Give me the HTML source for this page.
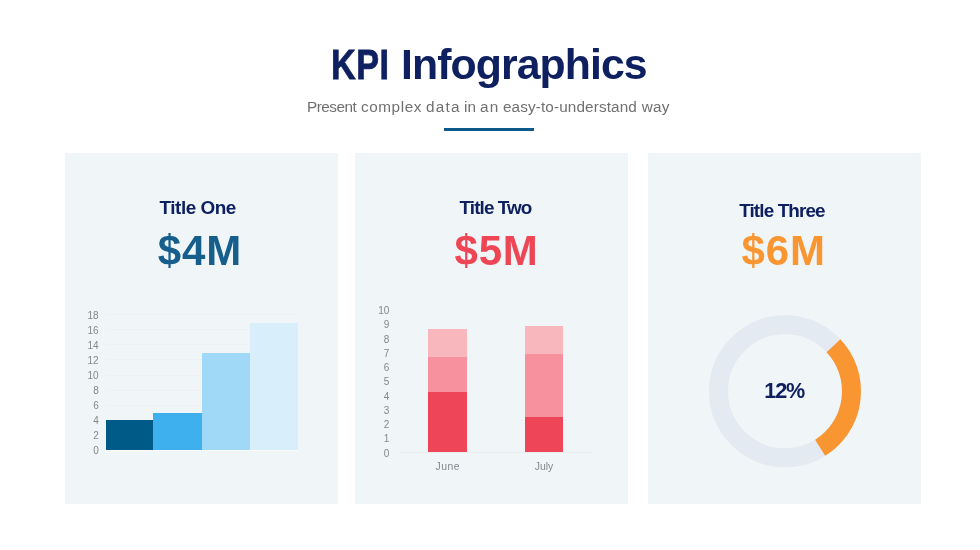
<!DOCTYPE html>
<html lang="en">
<head>
<meta charset="utf-8">
<title>KPI Infographics</title>
<style>
html,body{margin:0;padding:0;}
body{width:980px;height:550px;position:relative;overflow:hidden;background:#fff;font-family:"Liberation Sans",sans-serif;}
.card{position:absolute;top:153px;width:273px;height:351px;background:#f0f5f8;}
.t{position:absolute;white-space:nowrap;line-height:1;}
.b{position:absolute;}
</style>
</head>
<body>

<!-- header -->
<div id="h1" class="t" style="left:330.50px;top:43.07px;font-size:42.8px;color:#0f2060;font-weight:bold;"><span id="kpi" style="display:inline-block;transform:scaleX(0.8);transform-origin:0 50%;margin-right:-14.5px;-webkit-text-stroke:0.8px #0f2060;letter-spacing:0.6px;">KPI</span> <span id="info" style="letter-spacing:-0.93px;">Infographics</span></div>
<div id="sub" class="t" style="left:306.50px;top:98.85px;font-size:15.3px;color:#707070;"><span id="sw0" style="position:absolute;left:0.42px;top:0;letter-spacing:-0.467px;">Present </span><span id="sw1" style="position:absolute;left:54.42px;top:0;letter-spacing:0.600px;">complex </span><span id="sw2" style="position:absolute;left:119.38px;top:0;letter-spacing:1.267px;">data </span><span id="sw3" style="position:absolute;left:157.50px;top:0;letter-spacing:0.200px;">in </span><span id="sw4" style="position:absolute;left:173.38px;top:0;letter-spacing:1.320px;">an </span><span id="sw5" style="position:absolute;left:196.38px;top:0;letter-spacing:0.125px;">easy-to-understand </span><span id="sw6" style="position:absolute;left:335.22px;top:0;letter-spacing:0.200px;">way</span></div>
<div class="b" style="left:444px;top:128px;width:90px;height:3px;background:#0b5a8b;"></div>
<!-- cards -->
<div class="card" style="left:65px;"></div>
<div class="card" style="left:355px;"></div>
<div class="card" style="left:648px;"></div>
<!-- card 1 -->
<div id="t1" class="t" style="left:159.50px;top:198.50px;font-size:18.9px;color:#0f2060;font-weight:bold;letter-spacing:-0.45px;">Title One</div>
<div id="b1" class="t" style="left:157.70px;top:230.45px;font-size:42px;color:#165e8c;font-weight:bold;letter-spacing:0.9px;">$4M</div>
<div class="b" style="left:105.5px;top:449.80px;width:192px;height:1px;background:#eef0f3;"></div>
<div class="b" style="left:105.5px;top:434.74px;width:192px;height:1px;background:#eef0f3;"></div>
<div class="b" style="left:105.5px;top:419.68px;width:192px;height:1px;background:#eef0f3;"></div>
<div class="b" style="left:105.5px;top:404.62px;width:192px;height:1px;background:#eef0f3;"></div>
<div class="b" style="left:105.5px;top:389.56px;width:192px;height:1px;background:#eef0f3;"></div>
<div class="b" style="left:105.5px;top:374.50px;width:192px;height:1px;background:#eef0f3;"></div>
<div class="b" style="left:105.5px;top:359.44px;width:192px;height:1px;background:#eef0f3;"></div>
<div class="b" style="left:105.5px;top:344.38px;width:192px;height:1px;background:#eef0f3;"></div>
<div class="b" style="left:105.5px;top:329.32px;width:192px;height:1px;background:#eef0f3;"></div>
<div class="b" style="left:105.5px;top:314.26px;width:192px;height:1px;background:#eef0f3;"></div>
<div id="a1_0" class="t" style="left:78.70px;top:446.00px;font-size:10px;color:#85888b;text-align:right;width:20px;">0</div>
<div id="a1_2" class="t" style="left:78.70px;top:431.00px;font-size:10px;color:#85888b;text-align:right;width:20px;">2</div>
<div id="a1_4" class="t" style="left:78.70px;top:416.00px;font-size:10px;color:#85888b;text-align:right;width:20px;">4</div>
<div id="a1_6" class="t" style="left:78.70px;top:401.00px;font-size:10px;color:#85888b;text-align:right;width:20px;">6</div>
<div id="a1_8" class="t" style="left:78.70px;top:386.00px;font-size:10px;color:#85888b;text-align:right;width:20px;">8</div>
<div id="a1_10" class="t" style="left:78.70px;top:371.00px;font-size:10px;color:#85888b;text-align:right;width:20px;">10</div>
<div id="a1_12" class="t" style="left:78.70px;top:356.00px;font-size:10px;color:#85888b;text-align:right;width:20px;">12</div>
<div id="a1_14" class="t" style="left:78.70px;top:341.00px;font-size:10px;color:#85888b;text-align:right;width:20px;">14</div>
<div id="a1_16" class="t" style="left:78.70px;top:326.00px;font-size:10px;color:#85888b;text-align:right;width:20px;">16</div>
<div id="a1_18" class="t" style="left:78.70px;top:311.00px;font-size:10px;color:#85888b;text-align:right;width:20px;">18</div>
<div class="b" style="left:105.5px;top:450px;width:192px;height:1.4px;background:#f9fbfc;"></div>
<div class="b" style="left:105.5px;top:420.4px;width:47.5px;height:29.7px;background:#005a87;"></div>
<div class="b" style="left:153px;top:412.9px;width:48.7px;height:37.2px;background:#3fb0ee;"></div>
<div class="b" style="left:201.7px;top:352.6px;width:48.3px;height:97.5px;background:#a0d8f7;"></div>
<div class="b" style="left:250px;top:322.5px;width:47.6px;height:127.6px;background:#d9eefb;"></div>
<!-- card 2 -->
<div id="t2" class="t" style="left:459.50px;top:198.50px;font-size:18.9px;color:#0f2060;font-weight:bold;letter-spacing:-0.9px;">Title Two</div>
<div id="b2" class="t" style="left:454.50px;top:230.45px;font-size:42px;color:#ee4654;font-weight:bold;letter-spacing:0.8px;">$5M</div>
<div class="b" style="left:399px;top:452.10px;width:193px;height:1px;background:#e8edf0;"></div>
<div id="a2_0" class="t" style="left:369.40px;top:449.00px;font-size:10px;color:#85888b;text-align:right;width:20px;">0</div>
<div id="a2_1" class="t" style="left:369.40px;top:434.00px;font-size:10px;color:#85888b;text-align:right;width:20px;">1</div>
<div id="a2_2" class="t" style="left:369.40px;top:420.00px;font-size:10px;color:#85888b;text-align:right;width:20px;">2</div>
<div id="a2_3" class="t" style="left:369.40px;top:406.00px;font-size:10px;color:#85888b;text-align:right;width:20px;">3</div>
<div id="a2_4" class="t" style="left:369.40px;top:392.00px;font-size:10px;color:#85888b;text-align:right;width:20px;">4</div>
<div id="a2_5" class="t" style="left:369.40px;top:377.00px;font-size:10px;color:#85888b;text-align:right;width:20px;">5</div>
<div id="a2_6" class="t" style="left:369.40px;top:363.00px;font-size:10px;color:#85888b;text-align:right;width:20px;">6</div>
<div id="a2_7" class="t" style="left:369.40px;top:349.00px;font-size:10px;color:#85888b;text-align:right;width:20px;">7</div>
<div id="a2_8" class="t" style="left:369.40px;top:335.00px;font-size:10px;color:#85888b;text-align:right;width:20px;">8</div>
<div id="a2_9" class="t" style="left:369.40px;top:320.00px;font-size:10px;color:#85888b;text-align:right;width:20px;">9</div>
<div id="a2_10" class="t" style="left:369.40px;top:306.00px;font-size:10px;color:#85888b;text-align:right;width:20px;">10</div>
<div class="b" style="left:428px;top:391.8px;width:38.8px;height:60.2px;background:#ee4558;"></div>
<div class="b" style="left:428px;top:356.8px;width:38.8px;height:35.0px;background:#f6919d;"></div>
<div class="b" style="left:428px;top:328.8px;width:38.8px;height:28.0px;background:#f8b6bd;"></div>
<div class="b" style="left:524.8px;top:417.0px;width:38.0px;height:35.0px;background:#ee4558;"></div>
<div class="b" style="left:524.8px;top:354.3px;width:38.0px;height:62.7px;background:#f6919d;"></div>
<div class="b" style="left:524.8px;top:325.7px;width:38.0px;height:28.6px;background:#f8b6bd;"></div>
<div id="june" class="t" style="left:435.60px;top:462.00px;font-size:10.4px;color:#85888b;letter-spacing:0.45px;">June</div>
<div id="july" class="t" style="left:534.70px;top:462.00px;font-size:10.4px;color:#85888b;">July</div>
<!-- card 3 -->
<div id="t3" class="t" style="left:739.20px;top:202.30px;font-size:18.9px;color:#0f2060;font-weight:bold;letter-spacing:-0.88px;">Title Three</div>
<div id="b3" class="t" style="left:741.40px;top:230.45px;font-size:42px;color:#fa9632;font-weight:bold;letter-spacing:1.0px;">$6M</div>
<svg class="b" style="left:0;top:0;" width="980" height="550" viewBox="0 0 980 550"><circle cx="785" cy="391.3" r="66.5" fill="none" stroke="#e3eaf1" stroke-width="19"/><path d="M833.48 345.78 A66.5 66.5 0 0 1 820.14 447.76" fill="none" stroke="#fa9632" stroke-width="19"/></svg>
<div id="pct" class="t" style="left:764.20px;top:380.12px;font-size:21.6px;color:#0f2060;font-weight:bold;letter-spacing:-1.05px;">12%</div>
</body>
</html>
